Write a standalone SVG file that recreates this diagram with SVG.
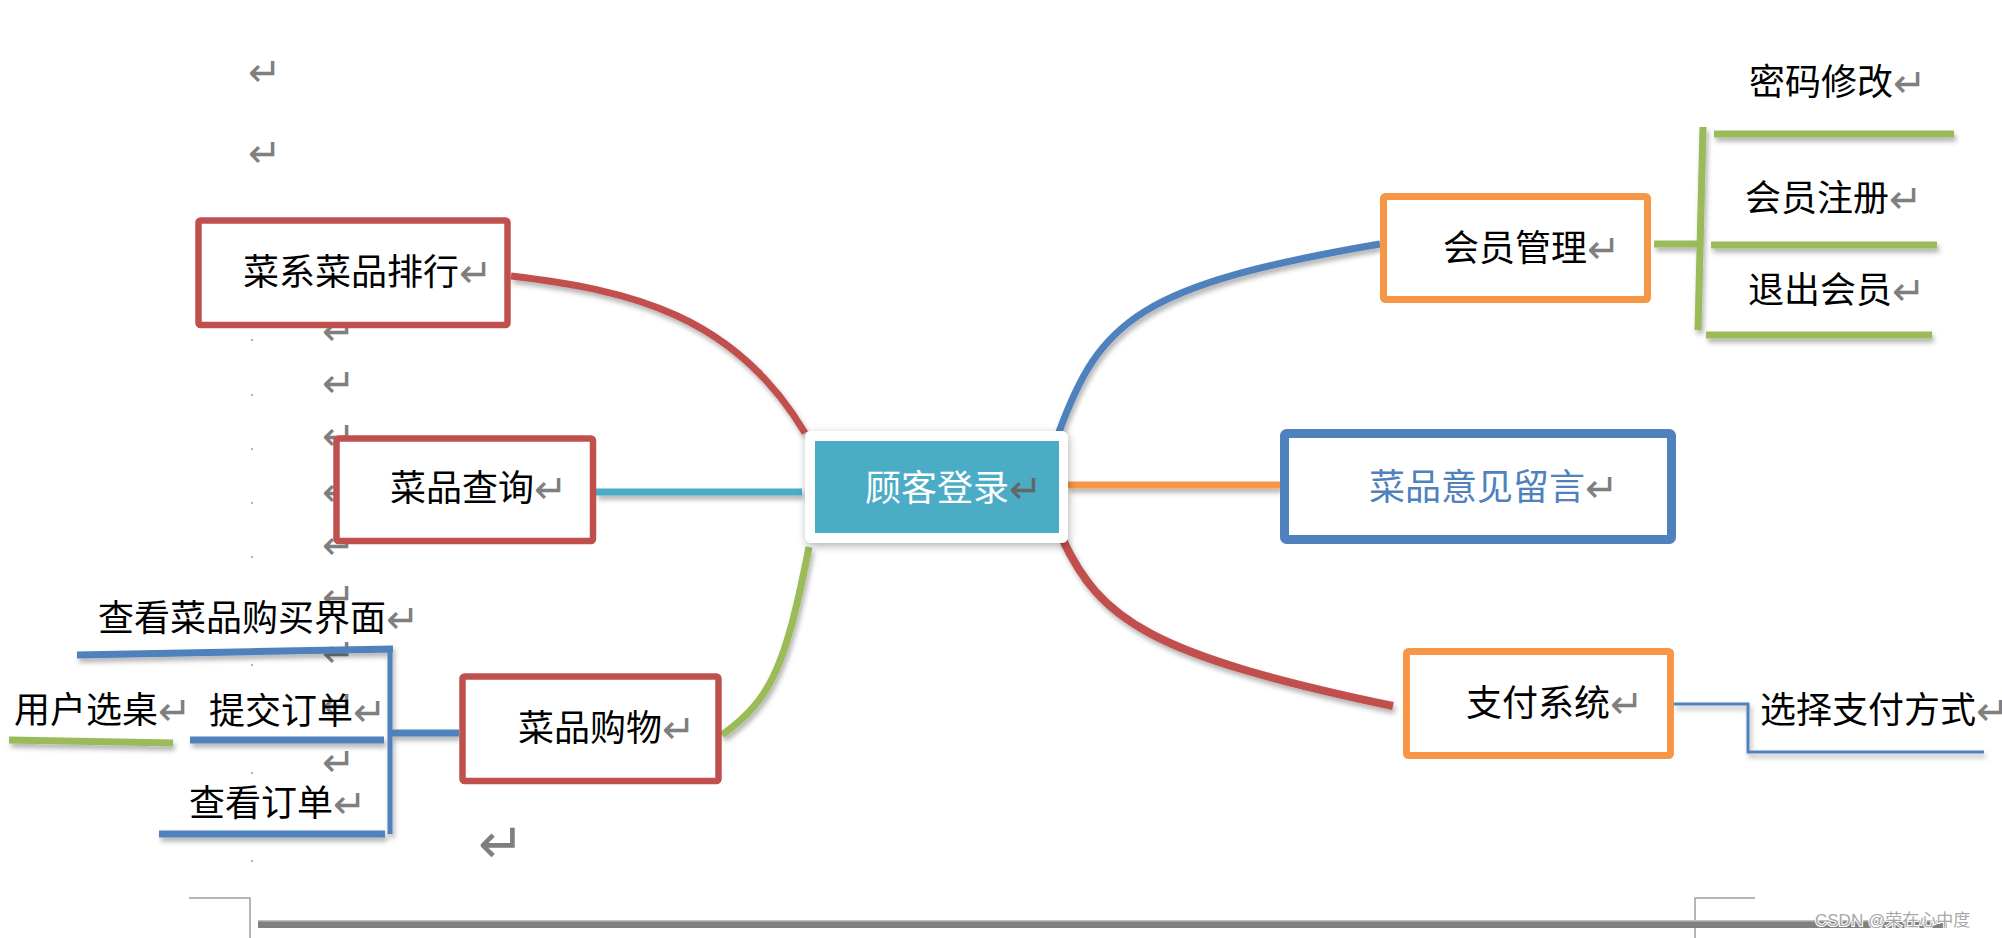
<svg xmlns="http://www.w3.org/2000/svg" width="2002" height="938" viewBox="0 0 2002 938">
<style>
.lbl{font-family:"Liberation Serif","Noto Sans CJK SC",serif;font-size:36px;fill:#000}
.ret{font-family:"DejaVu Sans",sans-serif;font-size:40px;fill:#7f7f7f}
.box{fill:#fff}
.red{stroke:#C0504D}
.org{stroke:#F79646}
.blu{stroke:#4F81BD}
.grn{stroke:#9BBB59}
.cyn{stroke:#4BACC6}
.ln{fill:none;stroke-width:7}
.dot{fill:#9a9a9a}
</style>
<defs>
<filter id="sh" x="-20%" y="-20%" width="140%" height="140%">
<feDropShadow dx="2" dy="4" stdDeviation="2.5" flood-color="#000" flood-opacity="0.3"/>
</filter>
<filter id="bs" x="-20%" y="-30%" width="140%" height="160%">
<feDropShadow dx="1" dy="3" stdDeviation="4" flood-color="#000" flood-opacity="0.3"/>
</filter>
</defs>
<rect width="2002" height="938" fill="#fff"/>

<g id="page-marks">
<circle class="dot" cx="252" cy="340" r="1"/>
<circle class="dot" cx="252" cy="395" r="1"/>
<circle class="dot" cx="252" cy="449" r="1"/>
<circle class="dot" cx="252" cy="503" r="1"/>
<circle class="dot" cx="252" cy="557" r="1"/>
<circle class="dot" cx="252" cy="665" r="1"/>
<circle class="dot" cx="252" cy="773" r="1"/>
<circle class="dot" cx="252" cy="861" r="1"/>
<text class="ret" x="248" y="86">↵</text>
<text class="ret" x="248" y="167">↵</text>
<text class="ret" x="322" y="345">↵</text>
<text class="ret" x="322" y="397">↵</text>
<text class="ret" x="322" y="450">↵</text>
<text class="ret" x="322" y="506">↵</text>
<text class="ret" x="322" y="559">↵</text>
<text class="ret" x="322" y="611">↵</text>
<text class="ret" x="322" y="667">↵</text>
<text class="ret" x="322" y="719">↵</text>
<text class="ret" x="322" y="776">↵</text>
<text class="ret" x="478" y="863" style="font-size:56px">↵</text>
<path d="M189,898 H250 V938 M1755,898 H1695 V938" fill="none" stroke="#a0a0a0" stroke-width="1.5"/>
<rect x="258" y="921" width="1689" height="7" fill="#808080"/>
<rect x="258" y="920" width="1689" height="1.5" fill="#c0c0c0"/>
</g>

<g id="connectors" filter="url(#sh)">
<path class="ln red" d="M511,276 C630,290 735,315 805,433"/>
<path class="ln blu" d="M1059,432 C1100,320 1140,285 1380,244"/>
<path class="ln grn" d="M722,735 C770,700 785,670 809,547"/>
<path class="ln red" style="stroke-width:8" d="M1062,538 C1100,620 1150,655 1393,706"/>
<path class="ln cyn" d="M596,492 H802"/>
<path class="ln org" d="M1067,485 H1280"/>
<path class="ln grn" d="M1654,244 H1703"/>
<path class="ln grn" d="M1703,127 L1698,330"/>
<path class="ln grn" d="M1714,134 H1954 M1711,245 H1937 M1706,335 H1932"/>
<path class="ln blu" d="M77,655 L393,649"/>
<path class="ln blu" style="stroke-width:5" d="M390,649 V834"/>
<path class="ln blu" d="M190,740 H384 M159,834 H385 M390,733 H459"/>
<path class="ln grn" d="M9,740 L173,743"/>
<path class="ln blu" style="stroke-width:3" d="M1674,704 H1748 V752 H1984"/>
</g>

<g id="n-center">
<rect x="805" y="431" width="263" height="112" rx="6" fill="#fff" filter="url(#bs)"/>
<rect x="815" y="441" width="244" height="92" fill="#4BACC6"/>
<text class="lbl" x="865" y="501" style="fill:#fff">顾客登录<tspan class="ret" style="fill:#666" dy="2">↵</tspan></text>
</g>

<g id="n-rank">
<rect class="box red" x="198.5" y="220.5" width="309" height="104.5" rx="2" stroke-width="6.5"/>
<text class="lbl" x="243" y="285">菜系菜品排行<tspan class="ret" dy="2">↵</tspan></text>
</g>

<g id="n-query">
<rect class="box red" x="336.5" y="438.5" width="256.5" height="102.5" rx="2" stroke-width="6.5"/>
<text class="lbl" x="390" y="501">菜品查询<tspan class="ret" dy="2">↵</tspan></text>
</g>

<g id="n-shop">
<rect class="box red" x="462.5" y="676.5" width="256" height="104.5" rx="2" stroke-width="6.5"/>
<text class="lbl" x="518" y="741">菜品购物<tspan class="ret" dy="2">↵</tspan></text>
</g>

<g id="n-view-buy">
<text class="lbl" x="98" y="631">查看菜品购买界面<tspan class="ret" dy="2">↵</tspan></text>
</g>
<g id="n-table">
<text class="lbl" x="14" y="723">用户选桌<tspan class="ret" dy="2">↵</tspan></text>
</g>
<g id="n-submit">
<text class="lbl" x="209" y="724">提交订单<tspan class="ret" dy="2">↵</tspan></text>
</g>
<g id="n-vieworder">
<text class="lbl" x="189" y="816">查看订单<tspan class="ret" dy="2">↵</tspan></text>
</g>

<g id="n-member">
<rect class="box org" x="1383.5" y="196.5" width="264" height="103" rx="2" stroke-width="7"/>
<text class="lbl" x="1443" y="261">会员管理<tspan class="ret" dy="2">↵</tspan></text>
</g>
<g id="n-pwd">
<text class="lbl" x="1749" y="95">密码修改<tspan class="ret" dy="2">↵</tspan></text>
</g>
<g id="n-reg">
<text class="lbl" x="1745" y="211">会员注册<tspan class="ret" dy="2">↵</tspan></text>
</g>
<g id="n-quit">
<text class="lbl" x="1748" y="303">退出会员<tspan class="ret" dy="2">↵</tspan></text>
</g>

<g id="n-feedback">
<rect class="box blu" x="1284.5" y="433.5" width="387" height="106" rx="2" stroke-width="9"/>
<text class="lbl" x="1369" y="500" style="fill:#4F81BD">菜品意见留言<tspan class="ret" dy="2">↵</tspan></text>
</g>

<g id="n-pay">
<rect class="box org" x="1406.5" y="651.5" width="264" height="104" rx="2" stroke-width="7"/>
<text class="lbl" x="1466" y="716">支付系统<tspan class="ret" dy="2">↵</tspan></text>
</g>
<g id="n-paymethod">
<text class="lbl" x="1760" y="723">选择支付方式<tspan class="ret" dy="2">↵</tspan></text>
</g>

<text x="1815" y="926" style="font-family:'Liberation Sans','Noto Sans CJK SC',sans-serif;font-size:17px;fill:#a8a8a8;stroke:#fff;stroke-width:2;paint-order:stroke">CSDN @荣在心中度</text>
</svg>
